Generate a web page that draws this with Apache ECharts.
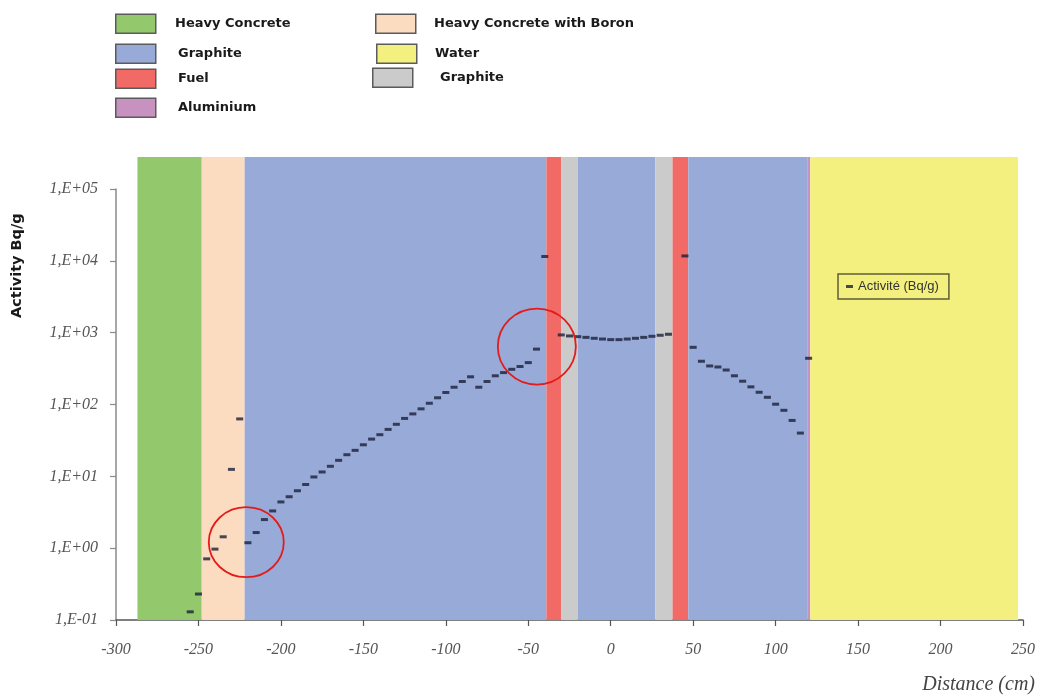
<!DOCTYPE html>
<html>
<head>
<meta charset="utf-8">
<script src="https://cdn.jsdelivr.net/npm/echarts@6/dist/echarts.min.js"></script>
<style>
  html, body { margin: 0; padding: 0; background: #ffffff; }
  #chart { width: 1045px; height: 695px; }
</style>
</head>
<body>
<div id="chart"></div>
<script>
// Material layers across the reactor section (distance in cm)
const bandMaterial = ['concrete', 'boronConcrete', 'graphite', 'fuel', 'sleeve', 'graphite', 'sleeve', 'fuel', 'graphite', 'aluminium', 'water'];
const bandStart    = [-287, -248, -222, -39, -30, -20, 27, 37.5, 47, 119.5, 121];
const bandEnd      = [-248, -222, -39, -30, -20, 27, 37.5, 47, 119.5, 121, 247];

// Specific activity measured along the section
const distance = [
  -255, -250, -245, -240, -235, -230, -225,
  -220, -215, -210, -205, -200, -195, -190, -185, -180, -175, -170, -165, -160, -155,
  -150, -145, -140, -135, -130, -125, -120, -115, -110, -105, -100, -95, -90, -85,
  -80, -75, -70, -65, -60, -55, -50, -45,
  -40,
  -30, -25, -20, -15, -10, -5, 0, 5, 10, 15, 20, 25, 30, 35,
  45,
  50, 55, 60, 65, 70, 75, 80, 85, 90, 95, 100, 105, 110, 115,
  120
];
const activity = [
  0.13, 0.23, 0.71, 0.97, 1.44, 12.5, 63,
  1.19, 1.65, 2.5, 3.3, 4.4, 5.2, 6.3, 7.7, 9.8, 11.5, 13.8, 16.7, 20, 23,
  27.5, 33, 38, 45, 53, 64, 74, 87, 104, 124, 147, 174, 209, 243,
  174, 209, 251, 278, 309, 338, 383, 590,
  11500,
  930, 900, 880, 860, 835, 815, 800, 800, 815, 835, 860, 890, 920, 950,
  11700,
  625, 400, 344, 333, 302, 251, 211, 176, 148, 126, 101, 83, 60, 40,
  440
];

// Key of materials shown above the plot (two columns)
const keyColumn1 = ['concrete', 'graphite', 'fuel', 'aluminium'];
const keyColumn2 = ['boronConcrete', 'water', 'sleeve'];
const materialLabel = {
  concrete: 'Heavy Concrete',
  boronConcrete: 'Heavy Concrete with Boron',
  graphite: 'Graphite',
  fuel: 'Fuel',
  aluminium: 'Aluminium',
  water: 'Water',
  sleeve: 'Graphite'
};
const seriesName = 'Activité (Bq/g)';

const materialColor = {
  concrete: '#93c96c',
  boronConcrete: '#fcdcc0',
  graphite: '#98aad7',
  fuel: '#f26a66',
  aluminium: '#c791c0',
  water: '#f3f07f',
  sleeve: '#cbcbcb'
};

const chart = echarts.init(document.getElementById('chart'), null, { renderer: 'canvas' });

function renderBand(params, api) {
  const p0 = api.coord([api.value(0), 1]);
  const p1 = api.coord([api.value(1), 0]);
  return {
    type: 'rect',
    shape: { x: p0[0], y: p0[1], width: p1[0] - p0[0], height: p1[1] - p0[1] },
    style: { fill: materialColor[bandMaterial[params.dataIndex]] }
  };
}

function expLabel(v) {
  const e = Math.round(Math.log10(v));
  const s = String(Math.abs(e)).padStart(2, '0');
  return '1,E' + (e < 0 ? '-' : '+') + s;
}

// Material key graphics
const keyGraphics = [];
const col1Rows = [23, 53, 78, 107];
const col2Rows = [23, 53, 77];
const keyText = { fontFamily: 'DejaVu Sans', fontWeight: 'bold', fontSize: 13, fill: '#1a1a1a' };
keyColumn1.forEach(function (k, i) {
  keyGraphics.push({ type: 'rect', left: 115, top: col1Rows[i] - 9.5,
    shape: { width: 40, height: 19 },
    style: { fill: materialColor[k], stroke: '#5b5b5b', lineWidth: 1.5 } });
  keyGraphics.push({ type: 'text', left: i === 0 ? 175 : 178, top: col1Rows[i] - 6,
    style: Object.assign({ text: materialLabel[k] }, keyText) });
});
const col2X = [375, 376, 372];
const col2TextX = [434, 435, 440];
keyColumn2.forEach(function (k, i) {
  keyGraphics.push({ type: 'rect', left: col2X[i], top: col2Rows[i] - 9.5,
    shape: { width: 40, height: 19 },
    style: { fill: materialColor[k], stroke: '#5b5b5b', lineWidth: 1.5 } });
  keyGraphics.push({ type: 'text', left: col2TextX[i], top: col2Rows[i] - 6,
    style: Object.assign({ text: materialLabel[k] }, keyText) });
});
keyGraphics.push({
  type: 'text', x: 10, y: 318, rotation: Math.PI / 2,
  style: { text: 'Activity Bq/g', fontFamily: 'DejaVu Sans', fontWeight: 'bold', fontSize: 14.5, fill: '#1a1a1a' }
});

const option = {
  backgroundColor: '#ffffff',
  animation: false,
  grid: [
    { left: 116, right: 22, top: 157, bottom: 75 },
    { left: 116, right: 22, top: 189, bottom: 75 }
  ],
  xAxis: [
    { gridIndex: 0, type: 'value', min: -300, max: 250, show: false },
    {
      gridIndex: 1, type: 'value', min: -300, max: 250, interval: 50,
      name: 'Distance (cm)', nameLocation: 'end', nameGap: 12,
      nameTextStyle: {
        fontFamily: 'Liberation Serif', fontStyle: 'italic', fontSize: 20, color: '#444',
        align: 'right', verticalAlign: 'top', padding: [55, 0, 0, 0]
      },
      axisLine: { show: true, onZero: false, lineStyle: { color: '#555', width: 1.5 } },
      axisTick: { show: true, inside: false, length: 6, lineStyle: { color: '#555', width: 1.2 } },
      axisLabel: { fontFamily: 'Liberation Serif', fontStyle: 'italic', fontSize: 16, color: '#555', margin: 22 },
      splitLine: { show: false }
    }
  ],
  yAxis: [
    { gridIndex: 0, type: 'value', min: 0, max: 1, show: false },
    {
      gridIndex: 1, type: 'log', logBase: 10, min: 0.1, max: 100000,
      axisLine: { show: true, onZero: false, lineStyle: { color: '#8a8a8a', width: 1.5 } },
      axisTick: { show: true, inside: false, length: 6, lineStyle: { color: '#8a8a8a', width: 1.2 } },
      axisLabel: {
        fontFamily: 'Liberation Serif', fontStyle: 'italic', fontSize: 16, color: '#555', margin: 18,
        formatter: expLabel
      },
      splitLine: { show: false }
    }
  ],
  legend: {
    data: [seriesName],
    left: 838, top: 274,
    orient: 'horizontal',
    icon: 'rect', itemWidth: 7, itemHeight: 3, itemGap: 4,
    padding: [6, 10, 6, 8],
    borderColor: '#5e5d3a', borderWidth: 1.5,
    textStyle: { fontFamily: 'Liberation Sans', fontSize: 13, color: '#333' }
  },
  series: [
    {
      type: 'custom', name: 'bands', xAxisIndex: 0, yAxisIndex: 0,
      renderItem: renderBand, silent: true, z: 1,
      encode: { x: [0, 1] },
      data: bandStart.map(function (s, i) { return [s, bandEnd[i]]; })
    },
    {
      type: 'scatter', name: seriesName, xAxisIndex: 1, yAxisIndex: 1,
      symbol: 'rect', symbolSize: [7, 3], z: 5,
      itemStyle: { color: '#1a1f3a' },
      data: distance.map(function (d, i) { return [d, activity[i]]; })
    }
  ],
  graphic: keyGraphics
};

chart.setOption(option);

// Red highlight rings around the discontinuities at the graphite borders
const ringCentres = [[-221, 1.21], [-44.8, 640]];
const ringRadii = [[37.5, 35], [39, 38]];
const rings = ringCentres.map(function (c, i) {
  const p = chart.convertToPixel({ seriesIndex: 1 }, c);
  return {
    type: 'ellipse', z: 100,
    shape: { cx: p[0], cy: p[1], rx: ringRadii[i][0], ry: ringRadii[i][1] },
    style: { fill: 'none', stroke: '#e31b1b', lineWidth: 1.8 }
  };
});
chart.setOption({ graphic: keyGraphics.concat(rings) });
</script>
</body>
</html>
